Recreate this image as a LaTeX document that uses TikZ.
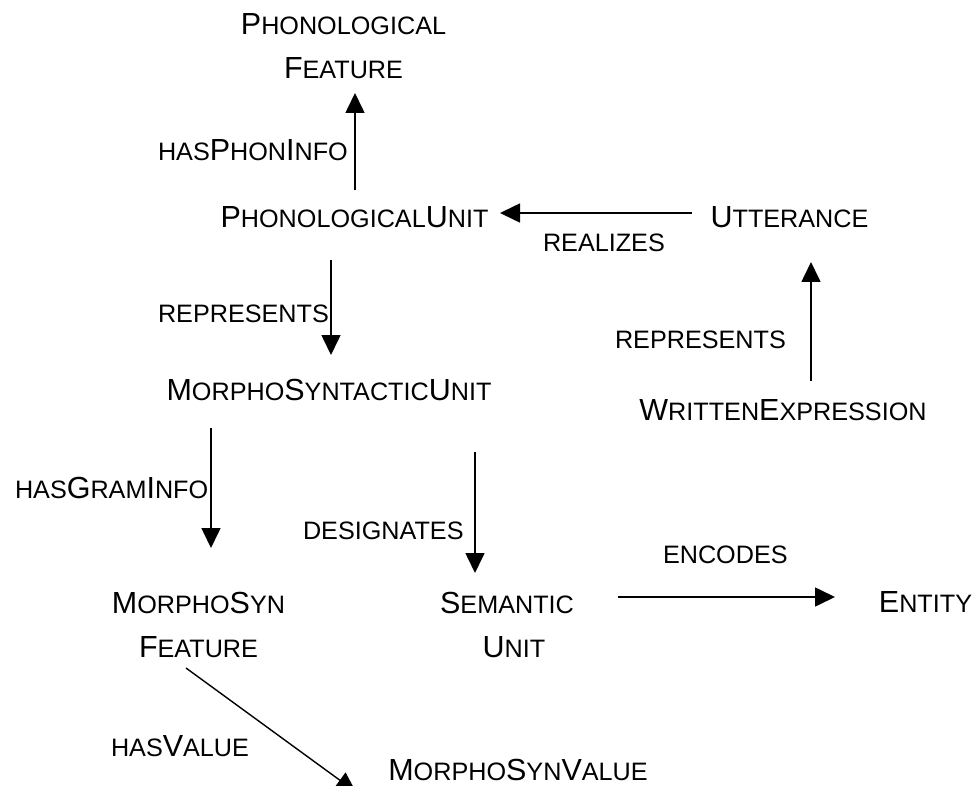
\documentclass[tikz,border=0pt]{standalone}
\usepackage{fontspec}
\setmainfont{Liberation Sans}
\usetikzlibrary{arrows.meta,calc}
\newcommand{\smc}[1]{{\fontsize{25.2}{44}\selectfont #1}}
\newcommand{\twolines}[2]{\begin{tabular}[t]{@{}c@{}}#1\\#2\end{tabular}}
\begin{document}
\begin{tikzpicture}[x=1pt,y=-1pt,
  every node/.style={inner sep=0pt,outer sep=0pt,font=\fontsize{30.5}{44}\selectfont},
  concept/.style={anchor=base},
  rel/.style={anchor=base west},
  arr/.style={line width=1.6pt,-{Triangle[length=20pt,width=19pt]}}]
\useasboundingbox (0,0) rectangle (977,786);
\clip (0,0) rectangle (977,786);
\fill[white] (0,0) rectangle (977,786);
% concepts
\node[concept] (pf)  at (343.5,35) {\twolines{P\smc{HONOLOGICAL}}{F\smc{EATURE}}};
\node[concept] (pu)  at (354.5,228) {P\smc{HONOLOGICAL}U\smc{NIT}};
\node[concept] (ut)  at (789.5,228) {U\smc{TTERANCE}};
\node[concept] (msu) at (329,400) {M\smc{ORPHO}S\smc{YNTACTIC}U\smc{NIT}};
\node[concept] (we)  at (783,420) {W\smc{RITTEN}E\smc{XPRESSION}};
\node[concept] (msf) at (198.5,613) {\twolines{M\smc{ORPHO}S\smc{YN}}{F\smc{EATURE}}};
\node[concept] (su)  at (507,613) {\twolines{S\smc{EMANTIC}}{\hspace{14pt}U\smc{NIT}}};
\node[concept] (en)  at (925.5,612) {E\smc{NTITY}};
\node[concept] (msv) at (518,780) {M\smc{ORPHO}S\smc{YN}V\smc{ALUE}};
% relation labels
\node[rel] (l1) at (158,161) {\smc{HAS}P\smc{HON}I\smc{NFO}};
\node[rel] (l2) at (543,252) {\smc{REALIZES}};
\node[rel] (l3) at (158,323) {\smc{REPRESENTS}};
\node[rel] (l4) at (615,348) {\smc{REPRESENTS}};
\node[rel] (l5) at (15,498) {\smc{HAS}G\smc{RAM}I\smc{NFO}};
\node[rel] (l6) at (303,539) {\smc{DESIGNATES}};
\node[rel] (l7) at (663,563) {\smc{ENCODES}};
\node[rel] (l8) at (111,756) {\smc{HAS}V\smc{ALUE}};
% connectors
\draw[arr] ($(pu.base)+(0.5,-38)$) -- ($(pf.base)+(11.5,58)$);
\draw[arr] ($(ut.base)+(-97.5,-15)$) -- ($(pu.base)+(145.5,-15)$);
\draw[arr] ($(pu.base)+(-23.5,32)$) -- ($(msu.base)+(2,-45)$);
\draw[arr] ($(we.base)+(28,-39)$) -- ($(ut.base)+(21.5,34)$);
\draw[arr] ($(msu.base)+(-118,28)$) -- ($(msf.base)+(12.5,-65)$);
\draw[arr] ($(msu.base)+(146,52)$) -- ($(su.base)+(-32,-40)$);
\draw[arr] ($(su.base)+(111,-16)$) -- ($(en.base)+(-90.5,-15)$);
\draw[arr,line width=1.4pt] ($(msf.base)+(-12.5,55)$) -- ($(msv.base)+(-162,12)$);
\end{tikzpicture}
\end{document}
